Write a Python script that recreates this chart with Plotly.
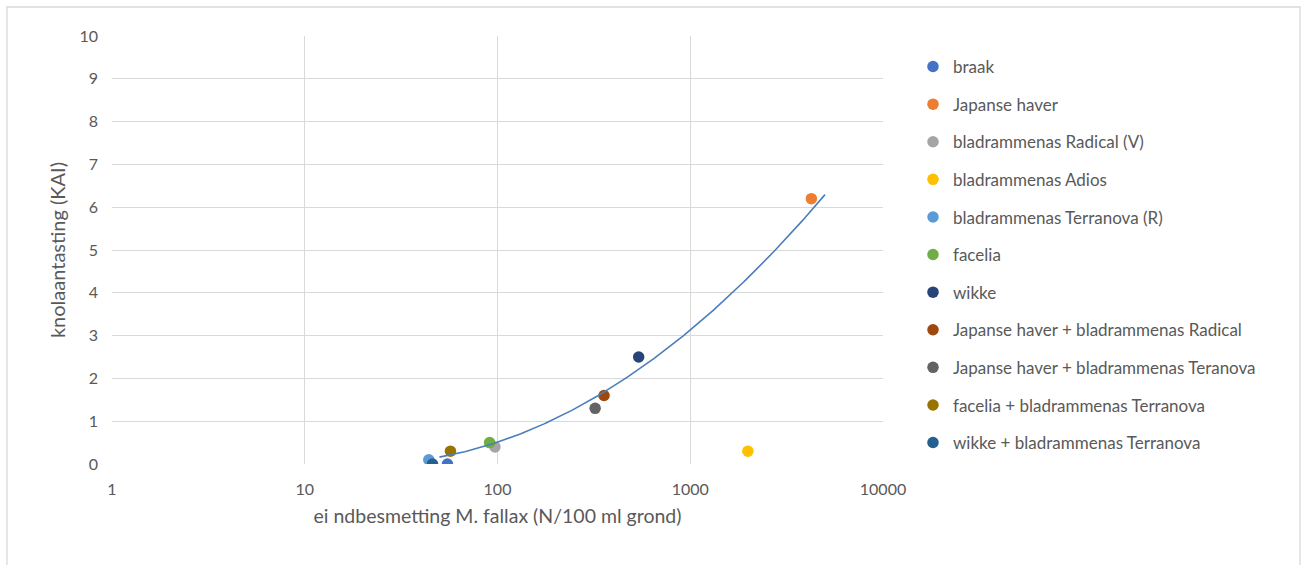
import numpy as np
import plotly.graph_objects as go

# Treatments (cover crops) with egg infestation and tuber damage
treatments = [
    "braak",
    "Japanse haver",
    "bladrammenas Radical (V)",
    "bladrammenas Adios",
    "bladrammenas Terranova (R)",
    "facelia",
    "wikke",
    "Japanse haver + bladrammenas Radical",
    "Japanse haver + bladrammenas Teranova",
    "facelia + bladrammenas Terranova",
    "wikke + bladrammenas Terranova",
]
egg_density = [55, 4250, 97, 1990, 44, 91, 540, 357, 321, 57, 46]
tuber_damage = [0, 6.2, 0.4, 0.3, 0.1, 0.5, 2.5, 1.6, 1.3, 0.3, 0]
colors = [
    "#4472C4", "#ED7D31", "#A5A5A5", "#FFC000", "#5B9BD5", "#70AD47",
    "#264478", "#9E480E", "#636363", "#997300", "#255E91",
]

# Quadratic trend in log10(egg density): c2*u^2 + c1*u + c0
trend_coefs = [1.122, -2.990, 2.002]
trend_range = [50, 5000]

x_ticks = [1, 10, 100, 1000, 10000]
y_ticks = list(range(0, 11))

FONT = "Lato"
GREY = "#595959"

fig = go.Figure()

for name, xv, yv, col in zip(treatments, egg_density, tuber_damage, colors):
    fig.add_trace(go.Scatter(
        x=[xv], y=[yv], mode="markers", name=name,
        legendgroup=name,
        marker=dict(size=11.5, color=col, line=dict(width=0)),
    ))

trend_x = np.logspace(np.log10(trend_range[0]), np.log10(trend_range[1]), 200)
trend_y = np.polyval(trend_coefs, np.log10(trend_x))
fig.add_trace(go.Scatter(
    x=trend_x, y=trend_y, mode="lines", showlegend=False,
    line=dict(color="#4A7EBB", width=1.6), hoverinfo="skip",
))

fig.update_xaxes(
    type="log", range=[0, 4], tickvals=x_ticks,
    ticktext=[str(v) for v in x_ticks],
    showgrid=True, gridcolor="#D9D9D9", gridwidth=1,
    zeroline=False, showline=False, ticks="",
    ticklabelstandoff=14,
    tickfont=dict(family=FONT, size=16, color=GREY),
    title=dict(text="ei ndbesmetting M. fallax (N/100 ml grond)",
               font=dict(family=FONT, size=19.5, color=GREY), standoff=12),
)
fig.update_yaxes(
    range=[0, 10], tickvals=y_ticks,
    showgrid=True, gridcolor="#D9D9D9", gridwidth=1,
    zeroline=False, showline=False, ticks="",
    ticklabelstandoff=13,
    tickfont=dict(family=FONT, size=16, color=GREY),
    title=dict(text="knolaantasting (KAI)",
               font=dict(family=FONT, size=20, color=GREY), standoff=8),
)

# Outer chart frame
fig.add_shape(type="rect", xref="paper", yref="paper",
              x0=(7 - 112) / 771, x1=(1300 - 112) / 771,
              y0=-0.3, y1=(464 - 7) / 428,
              line=dict(color="#D9D9D9", width=1.3), layer="below")

fig.update_layout(
    width=1306, height=565,
    margin=dict(l=112, r=423, t=36, b=101),
    paper_bgcolor="white", plot_bgcolor="white",
    font=dict(family=FONT, color=GREY),
    legend=dict(
        x=(913 - 112) / 771, xanchor="left",
        y=(464 - 49) / 428, yanchor="top",
        font=dict(family=FONT, size=17, color=GREY),
        tracegroupgap=12.5, itemclick=False,
        bgcolor="rgba(0,0,0,0)",
    ),
    showlegend=True,
)

fig.write_html("out.html")
